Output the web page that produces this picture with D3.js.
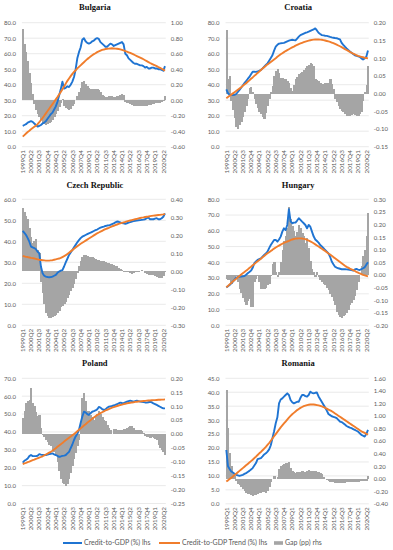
<!DOCTYPE html>
<html>
<head>
<meta charset="utf-8">
<script src="https://cdn.jsdelivr.net/npm/d3@7"></script>
<style>
  body { margin: 0; background: #fff; }
  svg text { font-family: Lato, "Open Sans", sans-serif; fill: #595959; font-size: 6px; }
  svg text.title { font-family: "Liberation Serif", serif; font-weight: bold; fill: #111; font-size: 8.5px; }
  svg text.xlab { font-size: 6.3px; }
  svg text.leg { font-size: 7px; }
</style>
</head>
<body>
<div id="chart"></div>
<script>
// quarters shown on every panel
const quarters = [
  "1999Q1","1999Q2","1999Q3","1999Q4","2000Q1","2000Q2","2000Q3","2000Q4","2001Q1","2001Q2","2001Q3","2001Q4",
  "2002Q1","2002Q2","2002Q3","2002Q4","2003Q1","2003Q2","2003Q3","2003Q4","2004Q1","2004Q2","2004Q3","2004Q4",
  "2005Q1","2005Q2","2005Q3","2005Q4","2006Q1","2006Q2","2006Q3","2006Q4","2007Q1","2007Q2","2007Q3","2007Q4",
  "2008Q1","2008Q2","2008Q3","2008Q4","2009Q1","2009Q2","2009Q3","2009Q4","2010Q1","2010Q2","2010Q3","2010Q4",
  "2011Q1","2011Q2","2011Q3","2011Q4","2012Q1","2012Q2","2012Q3","2012Q4","2013Q1","2013Q2","2013Q3","2013Q4",
  "2014Q1","2014Q2","2014Q3","2014Q4","2015Q1","2015Q2","2015Q3","2015Q4","2016Q1","2016Q2","2016Q3","2016Q4",
  "2017Q1","2017Q2","2017Q3","2017Q4","2018Q1","2018Q2","2018Q3","2018Q4","2019Q1","2019Q2","2019Q3","2019Q4",
  "2020Q1","2020Q2","2020Q3"];

// Bulgaria
const bgCredit = [13.5,14,14.5,15.5,16,16.5,16,15,14,13, 13.5,14,15,15.5,16.5,18,19.5,21,22,24,
  26,29,33,37,42,37.5,38,39,38.5,40, 42,45,50,57,61,64,69,70,68,67,
  66.5,67,68,68.5,69.5,70,69.5,67.5,66.5,65.5, 64.5,64.5,65.5,66.5,66,65,65.5,66,66.5,67,
  67.5,66,60,59,57,56,55,54,53.5,53.5, 53,52.5,52.5,52,51,51.5,50.5,50.5,51,51,
  50.5,50.5,50,50,49.5,49,52];
const bgTrend = [6.5,7.5,8.5,9.5,10.3,11.2,12,12.8,13.6,14.5, 15.8,17.2,18.5,20,21.5,23,24.5,26,27.5,29,
  30.5,32,33.7,35.3,37,38.8,40.7,42.5,44,45.5, 47,48.2,49.3,50.5,51.5,52.5,53.5,54.5,55.5,56.5,
  57.3,58.2,59,59.7,60.3,61,61.5,62,62.5,62.7, 63,63.2,63.3,63.4,63.5,63.4,63.3,63.2,63,62.8,
  62.5,62.1,61.7,61.3,60.9,60.5,60,59.5,59,58.5, 58,57.5,57,56.4,55.8,55.2,54.6,54,53.5,53,
  52.5,52,51.4,50.9,50.3,49.7,49];
const bgGap = [0.92,0.72,0.62,0.50,0.35,0.22,0.08,-0.05,-0.12,-0.18, -0.22,-0.26,-0.29,-0.31,-0.32,-0.31,-0.30,-0.28,-0.25,-0.22,
  -0.18,-0.14,-0.09,-0.04,0.02,-0.08,-0.10,-0.11,-0.12,-0.11, -0.08,-0.05,0.00,0.06,0.10,0.16,0.24,0.25,0.21,0.18,
  0.16,0.15,0.14,0.14,0.14,0.14,0.13,0.10,0.07,0.05, 0.04,0.04,0.05,0.06,0.05,0.04,0.04,0.05,0.06,0.07,
  0.08,0.07,-0.02,-0.03,-0.04,-0.05,-0.06,-0.07,-0.08,-0.08, -0.08,-0.08,-0.08,-0.08,-0.07,-0.07,-0.06,-0.06,-0.05,-0.05,
  -0.04,-0.04,-0.03,-0.03,-0.02,-0.01,0.06];

// Croatia
const hrCredit = [37,34.5,33.5,33.3,33.3,33.5,34,35.3,36.6,38, 39.5,41,42.3,43.7,45,46.7,48.4,48.4,48.3,48.5,
  49,49.5,50.5,51.6,52.7,53.8,55.5,57.2,59,62, 64.5,65.7,66.5,66.7,66.8,67,67.5,68,68.4,68.8,
  69,68.8,68.6,69.8,71,72,72.5,73,73.5,73.8, 74.2,74.7,75.2,75.7,76.3,75,73.5,72.7,72,71.8,
  71.6,71.5,71.2,70.8,70.5,70.3,70.1,70,69.6,69.2, 67,65.7,64.5,63.4,62.4,61.5,60.6,59.8,59,58.7,
  58.3,58,57,56.3,57,58,62];
const hrTrend = [31.2,32,32.8,33.6,34.4,35.2,36,36.8,37.6,38.4, 39.3,40.1,40.9,41.9,42.8,43.8,44.7,45.7,46.6,47.6,
  48.5,49.5,50.4,51.3,52.2,53.1,53.9,54.7,55.5,56.3, 57.1,58,58.8,59.6,60.3,61,61.7,62.3,62.9,63.5,
  64.1,64.6,65.2,65.7,66.2,66.6,67,67.4,67.8,68.1, 68.4,68.7,68.9,69.1,69.2,69.2,69.2,69.1,69,68.8,
  68.5,68.2,67.9,67.6,67.2,66.8,66.3,65.8,65.3,64.8, 64.2,63.6,63,62.4,61.8,61.2,60.6,60,59.5,59,
  58.6,58.3,58,57.7,57.4,57.2,57];
const hrGap = [0.18,0.04,0.05,-0.02,-0.045,-0.07,-0.095,-0.1,-0.09,-0.08, -0.067,-0.053,-0.035,-0.016,0.017,0.018,0.005,-0.015,-0.03,-0.04,
  -0.053,-0.058,-0.067,-0.072,-0.055,-0.035,-0.015,0.005,0.02,0.05, 0.063,0.068,0.058,0.045,0.043,0.04,0.04,0.035,0.03,0.017,
  0.007,0.025,0.04,0.047,0.054,0.057,0.06,0.066,0.072,0.077, 0.082,0.085,0.083,0.077,0.04,0.037,0.035,0.03,0.026,0.028,
  0.03,0.03,0.03,0.04,0.026,0.012,-0.016,-0.025,-0.035,-0.044, -0.048,-0.053,-0.058,-0.062,-0.062,-0.062,-0.06,-0.058,-0.06,-0.062,
  -0.062,-0.058,-0.053,-0.02,0.005,0.025,0.077];

// Czech Republic
const czCredit = [45,44,43,41.5,39.8,37.5,37.1,36.8,36.2,35, 34.3,28,24.8,23.6,23.2,23,22.9,23,23.2,23.6,
  24,25,25.6,26,26.3,28,30,31.7,33.5,34.7, 35.9,37.1,38.3,39.5,40.6,41.5,42.2,42.6,43,43.4,
  43.8,44.1,44.5,44.9,45.3,45.6,46.1,46.5,46.8,47, 47.3,47.5,47.6,47.8,48.2,48.5,49,49.4,49.3,49,
  48.7,48.5,48.3,48.6,48.9,49.1,49.4,49.6,49.8,49.9, 50,50.1,50.2,50.3,50.5,51,51.3,50.5,50.5,50.5,
  50.8,51,50.5,50.5,51,51.7,53.3];
const czTrend = [33,32.8,32.6,32.5,32.3,32.1,32,31.8,31.6,31.4, 31.2,31.1,31,30.9,30.8,30.8,30.8,30.9,31,31.2,
  31.4,31.6,31.8,32.1,32.5,32.9,33.4,34,34.6,35.2, 35.8,36.4,37,37.6,38.2,38.8,39.3,39.8,40.3,40.8,
  41.3,41.8,42.3,42.8,43.3,43.8,44.2,44.6,45,45.4, 45.8,46.1,46.4,46.8,47.1,47.4,47.7,48,48.3,48.5,
  48.8,49,49.2,49.5,49.7,49.9,50.1,50.3,50.5,50.7, 50.9,51.1,51.3,51.4,51.6,51.7,51.8,52,52.1,52.2,
  52.3,52.4,52.5,52.6,52.7,52.8,53];
const czGap = [0.35,0.33,0.31,0.29,0.24,0.19,0.16,0.17,0.18,0.12, 0.1,-0.06,-0.12,-0.18,-0.23,-0.25,-0.26,-0.26,-0.255,-0.25,
  -0.24,-0.23,-0.22,-0.2,-0.19,-0.18,-0.17,-0.15,-0.13,-0.11, -0.09,-0.07,-0.04,-0.01,0.03,0.055,0.08,0.093,0.09,0.085,
  0.082,0.08,0.077,0.073,0.07,0.065,0.063,0.06,0.058,0.056, 0.052,0.048,0.045,0.043,0.04,0.036,0.032,0.028,0.02,0.012,
  0.005,-0.002,-0.005,-0.004,-0.003,-0.01,-0.013,-0.012,-0.003,-0.006, -0.003,0.002,0.005,0.003,-0.01,-0.015,-0.02,-0.02,-0.018,-0.02,
  -0.025,-0.03,-0.035,-0.037,-0.037,-0.025,-0.005];

// Hungary
const huCredit = [24.1,24.8,25.6,26.6,27.7,29,30.2,30.6,30.8,30.9, 31.1,31.3,32.1,33,33.8,34.7,36.5,39.4,40.5,41.5,
  42,42.5,43.6,44.7,45.7,46.8,49,51,52.6,54.2, 54.2,53.1,54.5,56.3,59.5,61.6,60.5,63.7,73.7,66,
  64.8,65.2,65.2,66.5,68,66.9,65.8,64.8,63.7,61.6, 63.7,62.6,59.5,56.5,54.5,53.5,52.5,51,50,49,
  47.8,46.8,45.7,43.5,40.5,38.8,37.2,36.6,36.2,35.9, 35.6,35.6,35.6,35.5,35.4,35.2,35,34.7,35.5,35.8,
  35.4,35.1,35.6,36.2,36.8,38.5,40];
const huTrend = [24.1,25,26,26.9,27.9,28.8,29.6,30.5,31.3,32.2, 33,33.8,34.7,35.5,36.4,37.2,38.1,38.9,39.8,40.6,
  41.5,42.3,43.2,44,44.9,45.7,46.4,47.2,47.9,48.7, 49.4,50,50.6,51.2,51.8,52.4,52.8,53.2,53.6,54.1,
  54.5,54.8,55,55.1,55.2,55.2,55.1,54.9,54.7,54.3, 53.8,53.3,52.7,52.1,51.4,50.7,50,49.3,48.6,47.9,
  47.2,46.4,45.6,44.9,44.1,43.3,42.6,41.8,41,40.2, 39.4,38.6,37.8,37.1,36.6,36,35.5,35,34.5,33.9,
  33.4,32.9,32.5,32,31.7,31.4,31.1];
const huGap = [-0.016,-0.02,-0.022,-0.035,-0.03,-0.022,-0.005,-0.029,-0.055,-0.07, -0.09,-0.107,-0.12,-0.105,-0.094,-0.127,-0.127,-0.03,-0.015,-0.003,
  -0.03,-0.055,-0.055,-0.055,-0.05,-0.042,-0.035,-0.005,0.043,0.05, 0.01,-0.01,0.01,0.05,0.1,0.134,0.154,0.187,0.27,0.22,
  0.193,0.173,0.154,0.17,0.2,0.187,0.165,0.154,0.128,0.147, 0.108,0.056,0.023,0.01,-0.01,0.01,-0.01,-0.02,-0.03,-0.038,
  -0.042,-0.05,-0.06,-0.075,-0.087,-0.105,-0.12,-0.146,-0.16,-0.166, -0.17,-0.165,-0.16,-0.15,-0.14,-0.12,-0.11,-0.1,-0.085,-0.06,
  -0.03,0.0,0.037,0.076,0.1,0.154,0.245];

// Poland
const plCredit = [22.8,23.9,24.5,25.2,26.5,27.1,26.5,26.5,26.5,26.7, 27.6,27.3,27.1,27.1,27.1,27.3,27.6,27.8,28,27.5,
  27.1,26.6,26.1,26.3,26.6,26.8,27.1,28,28.9,31, 33,35.5,37.5,39,41.1,45,48.5,51.3,51,50,
  49.5,50.5,51.3,51.6,52,52.6,54,53.6,52.8,52.3, 52.6,53.5,54.1,54.3,54.5,54.8,55.1,55.5,56,56.4,
  56.2,56.1,56.5,56.9,57.2,57.5,57.2,56.9,57.2,57.5, 57.2,57,56.9,56.7,56.5,56.4,56.6,56.9,56.5,56,
  55.6,55.1,54.6,54.1,53.6,53.2,53.2];
const plTrend = [22,22.4,22.7,23.1,23.4,23.8,24.2,24.5,24.9,25.3, 25.6,26,26.4,26.9,27.4,27.9,28.4,28.9,29.5,30.2,
  30.9,31.7,32.4,33.1,33.8,34.6,35.3,36,36.7,37.4, 38.1,38.8,39.6,40.4,41.2,42,42.8,43.6,44.3,45.1,
  45.9,46.6,47.4,48.1,48.8,49.5,50,50.5,51,51.5, 52,52.4,52.8,53.2,53.6,53.9,54.2,54.5,54.8,55.1,
  55.3,55.6,55.8,56,56.2,56.3,56.5,56.6,56.8,56.9, 57,57.1,57.2,57.3,57.4,57.5,57.6,57.6,57.7,57.8,
  57.8,57.9,58,58,58.1,58.1,58.2];
const plGap = [0.057,0.081,0.113,0.117,0.123,0.164,0.11,0.1,0.08,0.063, 0.069,0.021,-0.002,-0.01,-0.02,-0.03,-0.038,-0.045,-0.056,-0.065,
  -0.074,-0.1,-0.133,-0.163,-0.175,-0.181,-0.187,-0.18,-0.163,-0.14, -0.115,-0.09,-0.068,-0.045,-0.02,0.039,0.129,0.146,0.117,0.081,
  0.081,0.069,0.06,0.051,0.062,0.07,0.081,0.07,0.06,0.051, 0.045,0.033,0.022,0.015,0.0,0.018,0.016,0.015,0.014,0.013,
  0.014,0.016,0.018,0.02,0.025,0.03,0.028,0.02,0.015,0.013, 0.013,0.015,0.01,0.005,-0.008,-0.01,-0.012,-0.014,-0.012,-0.015,
  -0.018,-0.022,-0.04,-0.05,-0.056,-0.065,-0.074];

// Romania
const roCredit = [19.3,13.5,12.5,11.6,11.2,10.8,10.4,10.2,10,10.2, 10.4,10.7,11,11.4,11.8,12.3,12.8,13.7,14.6,16,
  16.2,16.4,17,17.7,18.1,18.7,19.5,21,23.5,26, 28.9,31,36,37.4,37.8,38.4,39,39.6,39,37.2,
  36.4,36,36.3,36.6,36.6,38,39,39,38.6,38.4, 39,40.2,39.8,39.6,39.8,39.9,38.5,37.5,36.5,35.5,
  34.5,33.4,32.2,31.8,31.4,31.2,31,30.7,30.1,29.5, 29.3,28.9,28.4,27.9,27.6,27.3,27.1,26.8,26.5,26.2,
  25.9,25.3,24.7,24.4,24.1,25,26.5];
const roTrend = [8,8.4,8.9,9.3,9.8,10.3,10.8,11.3,11.8,12.3, 12.8,13.3,13.8,14.3,14.8,15.3,15.8,16.4,16.9,17.5,
  18.1,18.6,19.2,19.8,20.4,21.1,21.8,22.6,23.4,24.2, 25,25.8,26.6,27.4,28.1,28.8,29.5,30.2,30.9,31.5,
  32.1,32.6,33.1,33.6,34,34.4,34.7,35,35.2,35.4, 35.5,35.6,35.6,35.6,35.5,35.4,35.3,35.1,34.9,34.7,
  34.4,34.1,33.8,33.5,33.2,32.8,32.4,32,31.6,31.2, 30.8,30.4,30,29.6,29.2,28.8,28.4,28,27.6,27.2,
  26.8,26.4,26,25.7,25.4,25.1,24.8];
const roGap = [1.41,0.81,0.41,0.2,0.1,0.04,-0.037,-0.09,-0.106,-0.14, -0.17,-0.2,-0.22,-0.24,-0.25,-0.26,-0.27,-0.265,-0.26,-0.25,
  -0.23,-0.22,-0.21,-0.21,-0.22,-0.19,-0.14,-0.06,-0.01,0.04, -0.01,0.02,0.15,0.2,0.22,0.24,0.25,0.255,0.26,0.17,
  0.12,0.1,0.095,0.1,0.105,0.11,0.115,0.11,0.105,0.12, 0.14,0.13,0.12,0.12,0.125,0.11,0.105,0.09,0.07,0.03,
  0.0,-0.02,-0.037,-0.045,-0.053,-0.058,-0.063,-0.068,-0.074,-0.07, -0.065,-0.063,-0.063,-0.06,-0.058,-0.055,-0.053,-0.053,-0.05,-0.045,
  -0.045,-0.042,-0.04,-0.037,-0.037,-0.037,0.04];

const countries = ["Bulgaria", "Croatia", "Czech Republic", "Hungary", "Poland", "Romania"];
const creditSeries = [bgCredit, hrCredit, czCredit, huCredit, plCredit, roCredit];
const trendSeries = [bgTrend, hrTrend, czTrend, huTrend, plTrend, roTrend];
const gapSeries = [bgGap, hrGap, czGap, huGap, plGap, roGap];
// [min, max, step] of each axis
const lhsAxes = [[0, 80, 10], [0, 80, 10], [0, 60, 10], [0, 80, 10], [0, 70, 10], [0, 45, 5]];
const rhsAxes = [[-0.6, 1.0, 0.2], [-0.15, 0.2, 0.05], [-0.3, 0.4, 0.1], [-0.2, 0.3, 0.05], [-0.25, 0.2, 0.05], [-0.4, 1.6, 0.2]];

const legendLabels = ["Credit-to-GDP (%) lhs", "Credit-to-GDP Trend (%) lhs", "Gap (pp) rhs"];

const blue = "#1f74d2", orange = "#f07d2c", gray = "#a5a5a5";

// plot boxes for the 2x3 grid
const boxes = [
  {x0: 21.9, x1: 165.8, y0: 22.7, y1: 146.7, ty: 10},
  {x0: 225.5, x1: 368.8, y0: 22.7, y1: 146.7, ty: 10},
  {x0: 21.9, x1: 165.8, y0: 199.3, y1: 325.3, ty: 188},
  {x0: 225.5, x1: 368.8, y0: 199.3, y1: 325.3, ty: 188},
  {x0: 21.9, x1: 165.8, y0: 378.3, y1: 503.5, ty: 366},
  {x0: 225.5, x1: 368.8, y0: 378.3, y1: 503.8, ty: 366}
];

const svg = d3.select("#chart")
  .append("svg")
  .attr("width", 393)
  .attr("height", 550);

function makeTicks(axis) {
  const n = Math.round((axis[1] - axis[0]) / axis[2]);
  return d3.range(n + 1).map(k => Math.round((axis[0] + k * axis[2]) * 1000) / 1000);
}

function drawPanel(idx) {
  const box = boxes[idx];
  const g = svg.append("g");

  // bars touch each other, so no padding
  const x = d3.scaleBand().domain(quarters).range([box.x0, box.x1]).padding(0);
  const yL = d3.scaleLinear().domain([lhsAxes[idx][0], lhsAxes[idx][1]]).range([box.y1, box.y0]);
  const yR = d3.scaleLinear().domain([rhsAxes[idx][0], rhsAxes[idx][1]]).range([box.y1, box.y0]);
  const lTicks = makeTicks(lhsAxes[idx]);
  const rTicks = makeTicks(rhsAxes[idx]);
  const cx = q => x(q) + x.bandwidth() / 2;

  // gridlines
  g.selectAll(".grid")
    .data(lTicks)
    .enter()
    .append("line")
    .attr("x1", box.x0)
    .attr("x2", box.x1)
    .attr("y1", d => yL(d))
    .attr("y2", d => yL(d))
    .attr("stroke", "#dcdcdc")
    .attr("stroke-width", 0.6);

  // left axis
  g.append("g")
    .attr("transform", "translate(" + (box.x0 - 3) + ",0)")
    .call(d3.axisLeft(yL).tickValues(lTicks).tickSize(0).tickFormat(d => d.toFixed(1)))
    .call(a => a.select(".domain").remove());

  // right axis
  g.append("g")
    .attr("transform", "translate(" + (box.x1 + 2) + ",0)")
    .call(d3.axisRight(yR).tickValues(rTicks).tickSize(0).tickFormat(d => (Math.round(d * 100) / 100).toFixed(2)))
    .call(a => a.select(".domain").remove());

  // category labels, every 5th quarter
  g.selectAll(".xlab")
    .data(quarters.filter((q, i) => i % 5 === 0))
    .enter()
    .append("text")
    .attr("class", "xlab")
    .attr("transform", d => "translate(" + cx(d) + "," + (box.y1 + 3.5) + ") rotate(-90)")
    .attr("text-anchor", "end")
    .attr("dy", "0.35em")
    .text(d => d);

  // gap bars
  g.append("g")
    .attr("shape-rendering", "crispEdges")
    .selectAll("rect")
    .data(gapSeries[idx])
    .enter()
    .append("rect")
    .attr("x", (d, i) => x(quarters[i]))
    .attr("width", x.bandwidth() + 0.6)
    .attr("y", d => Math.min(yR(d), yR(0)))
    .attr("height", d => Math.abs(yR(d) - yR(0)))
    .attr("fill", gray);

  const line = d3.line()
    .x((d, i) => cx(quarters[i]))
    .y(d => yL(d));

  g.append("path")
    .datum(creditSeries[idx])
    .attr("d", line)
    .attr("fill", "none")
    .attr("stroke", blue)
    .attr("stroke-width", 1.9)
    .attr("stroke-linejoin", "round");

  g.append("path")
    .datum(trendSeries[idx])
    .attr("d", line)
    .attr("fill", "none")
    .attr("stroke", orange)
    .attr("stroke-width", 1.9)
    .attr("stroke-linejoin", "round");

  g.append("text")
    .attr("class", "title")
    .attr("x", (box.x0 + box.x1) / 2 + 1)
    .attr("y", box.ty)
    .attr("text-anchor", "middle")
    .text(countries[idx]);
}

countries.forEach((c, i) => drawPanel(i));

// legend
const legend = svg.append("g").attr("transform", "translate(0,543)");
const legX = [63, 159, 274];
legend.append("line").attr("x1", legX[0]).attr("x2", legX[0] + 19).attr("stroke", blue).attr("stroke-width", 2);
legend.append("line").attr("x1", legX[1]).attr("x2", legX[1] + 21).attr("stroke", orange).attr("stroke-width", 2);
legend.append("rect").attr("x", legX[2]).attr("y", -1.8).attr("width", 9).attr("height", 3.6).attr("fill", gray);
legend.selectAll(".leg")
  .data(legendLabels)
  .enter()
  .append("text")
  .attr("class", "leg")
  .attr("x", (d, i) => [84, 182, 285][i])
  .attr("dy", "0.35em")
  .text(d => d);
</script>
</body>
</html>
